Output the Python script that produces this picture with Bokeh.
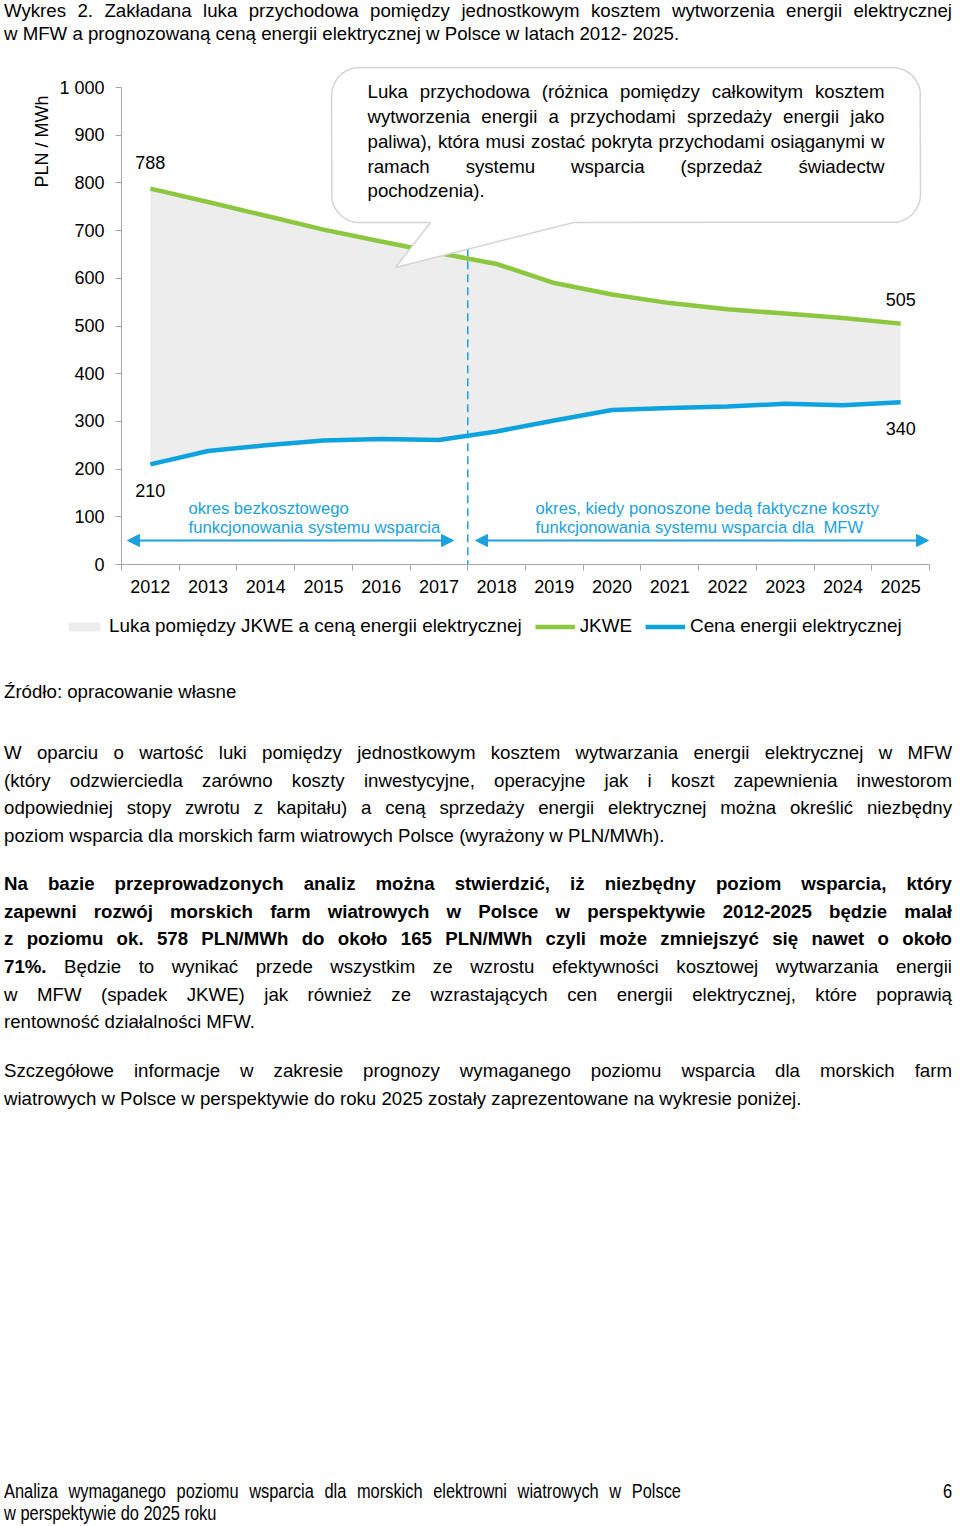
import math
from bokeh.plotting import figure
from bokeh.models import (Range1d, FixedTicker, Arrow, NormalHead, Title,
                          Legend, LegendItem, Div, ColumnDataSource)
from bokeh.layouts import column
from bokeh.embed import file_html
from bokeh.resources import INLINE
from bokeh.core.properties import value

# ---------------- data ----------------
years = ["2012", "2013", "2014", "2015", "2016", "2017", "2018",
         "2019", "2020", "2021", "2022", "2023", "2024", "2025"]
jkwe = [788, 760, 731, 702, 677, 653, 630, 590, 566, 548, 535, 526, 517, 505]
cena = [210, 238, 250, 260, 263, 261, 279, 302, 324, 328, 331, 337, 334, 340]
y_ticks = [0, 100, 200, 300, 400, 500, 600, 700, 800, 900, 1000]
y_tick_labels = {1000: "1 000"}
split_after = 5  # last year of the cost-free period (2017)
legend_labels = ["Luka pomiędzy JKWE a ceną energii elektrycznej", "JKWE",
                 "Cena energii elektrycznej"]

# ---------------- styles ----------------
GREEN = "#8DC63F"
BLUE = "#0EA2DF"
ANNO = "#1BA1DB"
GAP = "#EDEDED"
AXIS = "#A6A6A6"
FONT = "Liberation Sans"

PAGE_W = 960
FIG_W, FIG_H = 952, 560
BL, BR, BT, BB = 121, 23, 10, 46
PAGE_X0, PAGE_Y0 = 0, 50
LEG_H = 40
FRAME_L = PAGE_X0 + BL
FRAME_W = FIG_W - BL - BR
FRAME_T = PAGE_Y0 + BT
FRAME_B = PAGE_Y0 + FIG_H - BB
PXU = FRAME_W / len(years)
PYU = 0.477
Y_END = (FRAME_B - FRAME_T) / PYU


def dx(px):
    return (px - FRAME_L) / PXU - 0.5


def dy(py):
    return (FRAME_B - py) / PYU


# Arial / Liberation Sans advance widths (1/1000 em)
W = {' ': 278, '(': 333, ')': 333, ',': 278, '.': 278, '-': 333, '/': 278, ':': 278,
     'a': 556, 'b': 556, 'c': 500, 'd': 556, 'e': 556, 'f': 278, 'g': 556, 'h': 556,
     'i': 222, 'j': 222, 'k': 500, 'l': 222, 'm': 833, 'n': 556, 'o': 556, 'p': 556,
     'q': 556, 'r': 333, 's': 500, 't': 278, 'u': 556, 'v': 500, 'w': 722, 'x': 500,
     'y': 500, 'z': 500, 'ą': 556, 'ć': 500, 'ę': 556, 'ł': 222, 'ń': 556, 'ó': 556,
     'ś': 500, 'ź': 500, 'ż': 500, 'L': 556}


def tw(s, size):
    return sum(W.get(c, 556) for c in s) / 1000.0 * size


p = figure(width=FIG_W, height=FIG_H, output_backend="svg", toolbar_location=None,
           x_range=Range1d(-0.5, len(years) - 0.5), y_range=Range1d(0, Y_END),
           min_border_left=BL, min_border_right=BR, min_border_top=BT,
           min_border_bottom=BB, outline_line_color=None, margin=(0, 0, 0, 0))
p.xgrid.visible = False
p.ygrid.visible = False

xs = list(range(len(years)))
src = ColumnDataSource(dict(x=xs, jkwe=jkwe, cena=cena))

p.varea(x="x", y1="cena", y2="jkwe", source=src, fill_color=GAP)
p.line(x="x", y="jkwe", source=src, line_color=GREEN, line_width=4.5)
p.line(x="x", y="cena", source=src, line_color=BLUE, line_width=4.5)

# separator between periods
p.line(x=[split_after + 0.5, split_after + 0.5], y=[-8, 700], line_color=ANNO,
       line_width=1.5, line_dash="8 5")

# end-point value labels
off = 26 / PYU
p.text(x=[0, 0, len(years) - 1, len(years) - 1],
       y=[jkwe[0] + off, cena[0] - off, jkwe[-1] + 24 / PYU, cena[-1] - off],
       text=[str(jkwe[0]), str(cena[0]), str(jkwe[-1]), str(cena[-1])],
       text_font=value(FONT), text_font_size=value("18px"), text_color="#000000",
       text_align="center", text_baseline="middle")

# period arrows
ay = dy(540)
for xa, xb in [(dx(127), dx(453)), (dx(475), dx(928))]:
    p.add_layout(Arrow(x_start=xa, y_start=ay, x_end=xb, y_end=ay,
                       line_color=ANNO, line_width=2,
                       start=NormalHead(size=12, fill_color=ANNO, line_color=ANNO),
                       end=NormalHead(size=12, fill_color=ANNO, line_color=ANNO)))
p.text(x=[dx(188), dx(188), dx(535), dx(535)],
       y=[dy(508), dy(527), dy(508), dy(527)],
       text=["okres bezkosztowego", "funkcjonowania systemu wsparcia",
             "okres, kiedy ponoszone bedą faktyczne koszty",
             "funkcjonowania systemu wsparcia dla \u00a0MFW"],
       text_font=value(FONT), text_font_size=value("16.67px"), text_color=ANNO,
       text_align="left", text_baseline="middle")

# callout bubble
l, t, r, b, rad = 331, 67, 920, 222, 28
tail = [(573, b), (395, 267), (430, b)]
pts = [(l + rad, t), (r - rad, t)]
for k in range(1, 10):
    a = -math.pi / 2 + k * math.pi / 20
    pts.append((r - rad + rad * math.cos(a), t + rad + rad * math.sin(a)))
pts.append((r, b - rad))
for k in range(1, 10):
    a = k * math.pi / 20
    pts.append((r - rad + rad * math.cos(a), b - rad + rad * math.sin(a)))
pts += tail
pts.append((l + rad, b))
for k in range(1, 10):
    a = math.pi / 2 + k * math.pi / 20
    pts.append((l + rad + rad * math.cos(a), b - rad + rad * math.sin(a)))
pts.append((l, t + rad))
for k in range(1, 10):
    a = math.pi + k * math.pi / 20
    pts.append((l + rad + rad * math.cos(a), t + rad + rad * math.sin(a)))
p.patch(x=[dx(q[0]) for q in pts], y=[dy(q[1]) for q in pts],
        fill_color="#FFFFFF", line_color="#D4D4D4", line_width=1.5)

bubble_lines = ["Luka przychodowa (różnica pomiędzy całkowitym kosztem",
                "wytworzenia energii a przychodami sprzedaży energii jako",
                "paliwa), która musi zostać pokryta przychodami osiąganymi w",
                "ramach systemu wsparcia (sprzedaż świadectw",
                "pochodzenia)."]
BFS = 18.67
bx0, bx1 = 367, 884
by = [91, 116, 141, 166, 190]
wx, wy, wt = [], [], []
for i, line in enumerate(bubble_lines):
    words = line.split(" ")
    widths = [tw(w_, BFS) for w_ in words]
    if i < len(bubble_lines) - 1 and len(words) > 1:
        g = (bx1 - bx0 - sum(widths)) / (len(words) - 1)
    else:
        g = tw(" ", BFS)
    cx = bx0
    for w_, ww in zip(words, widths):
        wx.append(dx(cx))
        wy.append(dy(by[i]))
        wt.append(w_)
        cx += ww + g
p.text(x=wx, y=wy, text=wt, text_font=value(FONT), text_font_size=value("18.67px"),
       text_color="#000000", text_align="left", text_baseline="middle")

# axes
p.xaxis.ticker = FixedTicker(ticks=xs, minor_ticks=[k - 0.5 for k in range(len(years) + 1)])
p.xaxis.major_label_overrides = {i: y for i, y in enumerate(years)}
p.xaxis.major_tick_out = 0
p.xaxis.major_tick_in = 0
p.xaxis.minor_tick_out = 6
p.xaxis.minor_tick_in = 0
p.xaxis.minor_tick_line_color = AXIS
p.xaxis.axis_line_color = AXIS
p.xaxis.major_label_standoff = 9
p.xaxis.major_label_text_font = FONT
p.xaxis.major_label_text_font_size = "18px"
p.xaxis.major_label_text_color = "#000000"

p.yaxis.ticker = FixedTicker(ticks=y_ticks)
p.yaxis.major_label_overrides = y_tick_labels
p.yaxis.bounds = (0, 1000)
p.yaxis.major_tick_out = 6
p.yaxis.major_tick_in = 0
p.yaxis.minor_tick_line_color = None
p.yaxis.major_tick_line_color = AXIS
p.yaxis.axis_line_color = AXIS
p.yaxis.major_label_standoff = 11
p.yaxis.major_label_text_font = FONT
p.yaxis.major_label_text_font_size = "18px"
p.yaxis.major_label_text_color = "#000000"

p.add_layout(Title(text="PLN / MWh", align="right", offset=95 - FRAME_T,
                   vertical_align="middle", standoff=7, text_font=FONT,
                   text_font_size="18px", text_font_style="normal",
                   text_color="#000000"), "left")

# ---------------- legend strip ----------------
lg = figure(width=PAGE_W, height=LEG_H, output_backend="svg", toolbar_location=None,
            x_range=Range1d(0, PAGE_W), y_range=Range1d(0, LEG_H),
            min_border_left=0, min_border_right=0, min_border_top=0,
            min_border_bottom=0, outline_line_color=None, margin=(0, 0, 0, 0))
lg.axis.visible = False
lg.xgrid.visible = False
lg.ygrid.visible = False
# legend-only renderers, kept outside the visible range
hx = [-20, -10]
r_gap = lg.varea(x=hx, y1=[-20, -20], y2=[-10, -10], fill_color=GAP)
r_green = lg.line(x=hx, y=[-20, -20], line_color=GREEN, line_width=4.5)
r_blue = lg.line(x=hx, y=[-20, -20], line_color=BLUE, line_width=4.5)
legend = Legend(items=[LegendItem(label=legend_labels[0], renderers=[r_gap]),
                       LegendItem(label=legend_labels[1], renderers=[r_green]),
                       LegendItem(label=legend_labels[2], renderers=[r_blue])],
                orientation="horizontal", location=(64, 13),
                glyph_width=40, glyph_height=11, label_height=20,
                label_standoff=5, spacing=13, padding=0, margin=0,
                border_line_color=None, background_fill_alpha=0,
                label_text_font=FONT, label_text_font_size="18.85px",
                label_text_color="#000000")
lg.add_layout(legend)

# ---------------- page text ----------------
CSS_FONT = "'Liberation Sans', Arial, sans-serif"


def jl(content, lh, justify=True, extra=""):
    al = "justify" if justify else "left"
    return (f'<div style="text-align:{al};text-align-last:{al};height:{lh}px;'
            f'line-height:{lh}px;{extra}">{content}</div>')


title_lines = ["Wykres 2. Zakładana luka przychodowa pomiędzy jednostkowym kosztem wytworzenia energii elektrycznej",
               "w MFW a prognozowaną ceną energii elektrycznej w Polsce w latach 2012- 2025."]
title_html = (f'<div style="position:relative;top:0;left:4px;width:948px;'
              f'font-family:{CSS_FONT};font-size:18.67px;color:#000;">'
              + jl(title_lines[0], 21.5) + jl(title_lines[1], 23, False) + '</div>')
top_div = Div(text=title_html, width=PAGE_W, height=PAGE_Y0, margin=(0, 0, 0, 0))

para1 = ["W oparciu o wartość luki pomiędzy jednostkowym kosztem wytwarzania energii elektrycznej w MFW",
         "(który odzwierciedla zarówno koszty inwestycyjne, operacyjne jak i koszt zapewnienia inwestorom",
         "odpowiedniej stopy zwrotu z kapitału) a ceną sprzedaży energii elektrycznej można określić niezbędny",
         "poziom wsparcia dla morskich farm wiatrowych Polsce (wyrażony w PLN/MWh)."]
para2 = ["<b>Na bazie przeprowadzonych analiz można stwierdzić, iż niezbędny poziom wsparcia, który</b>",
         "<b>zapewni rozwój morskich farm wiatrowych w Polsce w perspektywie 2012-2025 będzie malał</b>",
         "<b>z poziomu ok. 578 PLN/MWh do około 165 PLN/MWh czyli może zmniejszyć się nawet o około</b>",
         "<b>71%.</b> Będzie to wynikać przede wszystkim ze wzrostu efektywności kosztowej wytwarzania energii",
         "w MFW (spadek JKWE) jak również ze wzrastających cen energii elektrycznej, które poprawią",
         "rentowność działalności MFW."]
para3 = ["Szczegółowe informacje w zakresie prognozy wymaganego poziomu wsparcia dla morskich farm",
         "wiatrowych w Polsce w perspektywie do roku 2025 zostały zaprezentowane na wykresie poniżej."]

LH = 27.67


def block(lines, top):
    inner = "".join(jl(s, LH, i < len(lines) - 1) for i, s in enumerate(lines))
    return f'<div style="position:absolute;top:{top}px;left:0;width:948px;">{inner}</div>'


SCALE = 0.82
footer = (f'<div style="position:absolute;top:830px;left:0;width:948px;font-size:20px;">'
          f'<div style="width:{677 / SCALE:.1f}px;transform:scaleX({SCALE});transform-origin:0 0;">'
          + jl("Analiza wymaganego poziomu wsparcia dla morskich elektrowni wiatrowych w Polsce", 22)
          + jl("w perspektywie do 2025 roku", 22, False) + '</div>'
          f'<div style="position:absolute;top:0;right:0;line-height:22px;transform:scaleX({SCALE});'
          f'transform-origin:100% 0;">6</div></div>')

bottom_html = (f'<div style="position:relative;left:4px;width:948px;height:868px;'
               f'font-family:{CSS_FONT};font-size:18.67px;color:#000;">'
               + '<div style="position:absolute;top:28px;left:0;line-height:28px;">Źródło: opracowanie własne</div>'
               + block(para1, 89) + block(para2, 220) + block(para3, 407) + footer + '</div>')
bottom_div = Div(text=bottom_html, width=PAGE_W, height=868, margin=(0, 0, 0, 0))

layout = column(column(top_div, p, spacing=0), column(lg, bottom_div, spacing=0), spacing=0)
open("out.html", "w").write(file_html(layout, INLINE))
